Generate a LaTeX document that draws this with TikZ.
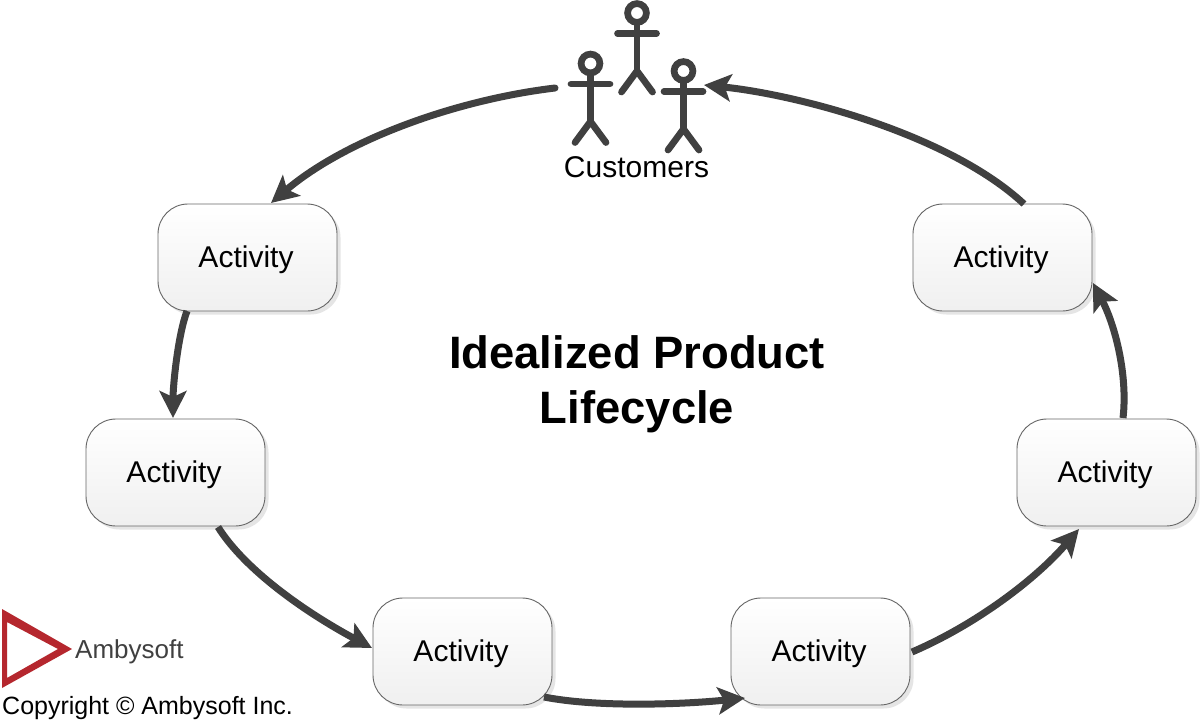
\documentclass[tikz,border=0pt]{standalone}
\usepackage{fontspec}
\setmainfont{Liberation Sans}
\usetikzlibrary{arrows.meta,calc}
\definecolor{ink}{HTML}{404040}
\definecolor{logored}{HTML}{B5272E}
\tikzset{
  x=1pt,y=-1pt,
  activity/.style={draw=black!60,line width=0.9pt,rounded corners=30pt,minimum width=179pt,minimum height=107pt,
    top color=white,bottom color=black!6,inner sep=0pt,text depth=0pt,font=\fontsize{30}{36}\selectfont},
  flow/.style={draw=ink,line width=7pt,-{Stealth[length=27pt,width=27pt,inset=6pt]}},
  limb/.style={draw=ink,line width=6.7pt,line cap=round},
  headring/.style={draw=ink,line width=6.7pt,fill=white,circle,minimum size=18.8pt,inner sep=0pt,outer sep=0pt},
  plain/.style={inner sep=0pt,text=black}
}
\newcommand{\actorfig}[3]{%
  \coordinate (#3n) at (#1,#2+12);
  \coordinate (#3c) at (#1,#2+58);
  \coordinate (#3l) at (#1-15.5,#2+79);
  \coordinate (#3r) at (#1+15.5,#2+79);
  \coordinate (#3al) at (#1-19.5,#2+20.5);
  \coordinate (#3ar) at (#1+19.5,#2+20.5);
  \draw[limb] (#3n) -- (#3c);
  \draw[limb] (#3al) -- (#3ar);
  \draw[limb] (#3l) -- (#3c) -- (#3r);
  \node[headring] (#3h) at (#1,#2) {};
}
\newcommand{\acttext}{\raisebox{1pt}{\hspace{-3pt}Activity}}
\begin{document}
\begin{tikzpicture}
\useasboundingbox (0,0) rectangle (1200,725);
\fill[white] (0,0) rectangle (1200,725);
% shadows
\foreach \cx/\cy in {247.5/257.5,175.5/472.5,462.5/651.5,820.5/651.5,1106.5/472.5,1002.5/257.5}{
  \fill[black!10,rounded corners=30pt] (\cx-86,\cy-50) rectangle (\cx+93,\cy+57);
}
\node[activity] (a1) at (247.5,257.5) {\acttext};
\node[activity] (a2) at (175.5,472.5) {\acttext};
\node[activity] (a3) at (462.5,651.5) {\acttext};
\node[activity] (a4) at (820.5,651.5) {\acttext};
\node[activity] (a5) at (1106.5,472.5) {\acttext};
\node[activity] (a6) at (1002.5,257.5) {\acttext};
\node[plain,font=\fontsize{30}{36}\selectfont] (cust) at (636.5,167) {Customers};
\node[plain,font=\bfseries\fontsize{45.4}{54.5}\selectfont,align=center] (title) at (637,384.5) {Idealized Product\\Lifecycle};
\actorfig{590.5}{63.5}{p}
\actorfig{637}{13}{q}
\actorfig{683.5}{71}{s}
\coordinate (cl) at (555,88);
\coordinate (cr) at (704,85);
\coordinate (a1in) at (271,203);
\coordinate (a1out) at (187,311);
\coordinate (a2in) at (173,418);
\coordinate (a2out) at (218,527);
\coordinate (a3in) at (372,648);
\coordinate (a3out) at (544,697);
\coordinate (a4in) at (745,698);
\coordinate (a4out) at (912,652);
\coordinate (a5in) at (1079,529);
\coordinate (a5out) at (1123,418);
\coordinate (a6in) at (1093,283);
\coordinate (a6out) at (1024,204);
\draw[flow,line cap=round] (cl) .. controls (455,100) and (345,140) .. (a1in);
\draw[flow] (a1out) .. controls (178,335) and (173,385) .. (a2in);
\draw[flow] (a2out) .. controls (245,570) and (305,612) .. (a3in);
\draw[flow] (a3out) .. controls (600,708) and (688,704) .. (a4in);
\draw[flow] (a4out) .. controls (975,625) and (1035,580) .. (a5in);
\draw[flow] (a5out) .. controls (1128,375) and (1115,325) .. (a6in);
\draw[flow] (a6out) .. controls (950,135) and (800,95) .. (cr);
% logo
\fill[logored,even odd rule] (2,609) -- (72,649) -- (2,688) -- cycle (7,622) -- (7,678) -- (58,649) -- cycle;
\node[plain,anchor=west,text=ink,font=\fontsize{26}{31}\selectfont] (brand) at (75,652) {Ambysoft};
\node[plain,anchor=west,font=\fontsize{25}{30}\selectfont] (copy) at (2,708.5) {Copyright © Ambysoft Inc.};
\end{tikzpicture}
\end{document}
